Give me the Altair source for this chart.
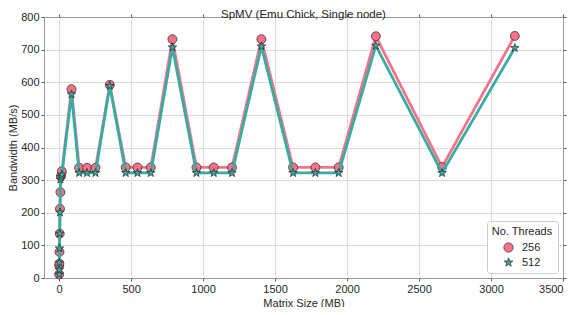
import altair as alt
import pandas as pd

TITLE = "SpMV (Emu Chick, Single node)"
# Matrix size (MB)
sizes = [0.3, 0.8, 1.5, 2.5, 4, 6, 9, 13, 19,
         86, 139, 194, 253, 352, 463, 544, 637, 787, 954, 1074, 1201,
         1405, 1625, 1780, 1942, 2200, 2660, 3165]
# Bandwidth (MB/s)
bw_256 = [11, 38, 44, 80, 136, 212, 263, 312, 327,
          579, 338, 338, 338, 592, 339, 339, 339, 732, 339, 339, 339,
          732, 339, 339, 339, 741, 340, 742]
bw_512 = [11, 25, 47, 91, 136, 201, 302, 310, 317,
          563, 322, 322, 322, 589, 322, 322, 322, 707, 322, 322, 322,
          710, 322, 322, 322, 712, 322, 705]
threads = ["256", "512"]
colors = ["#f77189", "#36ada4"]
STAR = ("M0,-1L0.2245,-0.309L0.951,-0.309L0.3633,0.118L0.588,0.809L0,0.382"
        "L-0.588,0.809L-0.3633,0.118L-0.951,-0.309L-0.2245,-0.309Z")
shapes = ["circle", STAR]
x_ticks = [0, 500, 1000, 1500, 2000, 2500, 3000, 3500]
y_ticks = [0, 100, 200, 300, 400, 500, 600, 700, 800]

n = len(sizes)
df = pd.DataFrame({
    "size": sizes + sizes,
    "bw": bw_256 + bw_512,
    "threads": [threads[0]] * n + [threads[1]] * n,
})

FONT = "Liberation Sans"
W, H = 519, 261
xscale = alt.Scale(domain=[-105, 3500], nice=False, zero=False)
yscale = alt.Scale(domain=[0, 800], nice=False, zero=False)

axis_common = dict(labelFont=FONT, titleFont=FONT, labelFontSize=11, titleFontSize=11,
                   titleFontWeight="normal", labelColor="#262626", titleColor="#262626",
                   tickColor="#555", tickSize=3, domainColor="#999", gridColor="#dcdcdc",
                   gridWidth=1, labelPadding=2, format="d")

x_main = alt.X("size:Q", scale=xscale,
               axis=alt.Axis(orient="bottom", values=x_ticks, title="Matrix Size (MB)",
                             titlePadding=3, **axis_common))
y_main = alt.Y("bw:Q", scale=yscale,
               axis=alt.Axis(orient="left", values=y_ticks, title="Bandwidth (MB/s)",
                             titlePadding=2, **axis_common))
x_none = alt.X("size:Q", scale=xscale, axis=None)
y_none = alt.Y("bw:Q", scale=yscale, axis=None)

color_enc = alt.Color("threads:N", scale=alt.Scale(domain=threads, range=colors),
                      legend=alt.Legend(title="No. Threads", orient="bottom-right", offset=5,
                                        fillColor="white", strokeColor="#ccc", padding=5,
                                        cornerRadius=3, titleFont=FONT, labelFont=FONT,
                                        titleFontSize=11, labelFontSize=11, titleFontWeight="normal",
                                        titleAnchor="middle", titleColor="#262626", labelColor="#262626",
                                        symbolSize=85, symbolStrokeColor="#333", symbolStrokeWidth=0.8,
                                        rowPadding=2, labelOffset=8))
shape_enc = alt.Shape("threads:N", scale=alt.Scale(domain=threads, range=shapes))

layers = []
for i, t in enumerate(threads):
    base = alt.Chart(df).transform_filter(alt.datum.threads == t)
    line = base.mark_line(color=colors[i], strokeWidth=2.8).encode(
        x=x_main if i == 0 else x_none, y=y_main if i == 0 else y_none)
    pts = base.mark_point(filled=True, size=80, stroke="#333", strokeWidth=0.8, opacity=1).encode(
        x=x_none, y=y_none, color=color_enc, shape=shape_enc)
    layers += [line, pts]

frame = alt.Chart(df).mark_point(opacity=0).encode(
    x=alt.X("size:Q", scale=xscale,
            axis=alt.Axis(orient="top", values=x_ticks, labels=False, title=None, grid=False,
                          tickColor="#555", tickSize=3, domainColor="#999")),
    y=alt.Y("bw:Q", scale=yscale,
            axis=alt.Axis(orient="right", values=y_ticks, labels=False, title=None, grid=False,
                          tickColor="#555", tickSize=3, domainColor="#999")),
)
layers.append(frame)

title_layer = alt.Chart(pd.DataFrame({"t": [TITLE]})).mark_text(
    font=FONT, fontSize=11.5, color="#262626", align="center", baseline="alphabetic"
).encode(text="t:N", x=alt.value(W / 2), y=alt.value(0.5))
layers.append(title_layer)

chart = alt.layer(*layers).resolve_axis(x="independent", y="independent").properties(
    width=W, height=H,
    autosize=alt.AutoSizeParams(type="none"),
    padding={"left": 36, "top": 9, "right": 10, "bottom": 29},
).configure_view(stroke="#bbb")

chart.save("out.html", embed_options={"renderer": "svg", "actions": False})
